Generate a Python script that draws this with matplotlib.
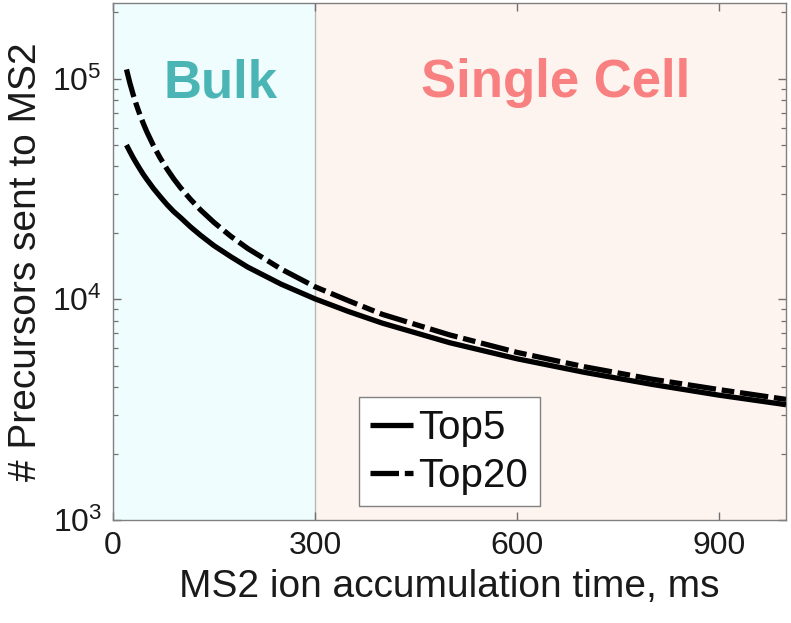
import matplotlib
matplotlib.use("Agg")
import matplotlib.pyplot as plt
from matplotlib.ticker import LogLocator, LogFormatterMathtext, FixedLocator

plt.rcParams['font.family'] = ['Liberation Sans', 'DejaVu Sans']
plt.rcParams['mathtext.fontset'] = 'custom'
plt.rcParams['mathtext.rm'] = 'Liberation Sans'
plt.rcParams['mathtext.it'] = 'Liberation Sans:italic'
plt.rcParams['mathtext.bf'] = 'Liberation Sans:bold'

# Data
t_ms = [20, 25, 30, 35, 40, 45, 50, 60, 70, 80, 90, 100, 115, 130, 150, 175, 200, 250,
        300, 350, 400, 500, 600, 700, 800, 900, 1000]
top5 = [50000, 46700, 43750, 41200, 38900, 36800, 35000, 31800, 29200, 26900, 25000, 23500,
        21300, 19500, 17500, 15600, 14000, 11700, 10050, 8800, 7800, 6360, 5380, 4670, 4120,
        3680, 3330]
top20 = [110000, 95500, 84400, 75600, 68500, 62600, 57600, 49700, 43700, 39000, 35200, 32100,
         28400, 25400, 22300, 19300, 17000, 13700, 11400, 9850, 8550, 6900, 5750, 4950, 4350,
         3900, 3520]
series_labels = ['Top5', 'Top20']
region_labels = ['Bulk', 'Single Cell']
x_ticks = [0, 300, 600, 900]

fig = plt.figure(figsize=(7.91, 6.23), dpi=100)
ax = fig.add_axes([0.1429, 0.1653, 0.8508, 0.8299])

ax.axvspan(0, 300, facecolor='#effdfe', edgecolor='none', zorder=0)
ax.axvspan(300, 1000, facecolor='#fdf4f0', edgecolor='none', zorder=0)
ax.axvline(300, color='#b8b8b8', lw=1.0, zorder=0.5)

ax.plot(t_ms, top5, color='black', lw=3.8, solid_capstyle='butt', label=series_labels[0], zorder=3)
ax.plot(t_ms, top20, color='black', lw=3.8, dash_capstyle='butt',
        linestyle=(0, (5.4, 1.1, 2.4, 1.1)), label=series_labels[1], zorder=3)

ax.set_xlim(0, 1000)
ax.set_yscale('log')
ax.set_ylim(1e3, 2.2e5)
ax.xaxis.set_major_locator(FixedLocator(x_ticks))
ax.yaxis.set_major_locator(LogLocator(base=10, numticks=10))
ax.yaxis.set_minor_locator(LogLocator(base=10, subs=range(2, 10), numticks=20))
ax.yaxis.set_major_formatter(LogFormatterMathtext())

ax.tick_params(axis='both', which='both', direction='in', top=True, right=True,
               color='#707070', labelcolor='#1a1a1a')
ax.tick_params(axis='both', which='major', length=6, width=1, labelsize=23, pad=8)
ax.tick_params(axis='y', which='minor', length=3.5, width=0.9)
for s in ax.spines.values():
    s.set_color('#808080')
    s.set_linewidth(1.0)

ax.set_xlabel('MS2 ion accumulation time, ms', fontsize=28, color='#1a1a1a', labelpad=6)
ax.set_ylabel('# Precursors sent to MS2', fontsize=28, color='#1a1a1a', labelpad=6)

ax.text(159, 0.95e5, region_labels[0], fontsize=38, fontweight='bold', color='#4bb5b5',
        ha='center', va='center')
ax.text(657, 0.95e5, region_labels[1], fontsize=38, fontweight='bold', color='#f88080',
        ha='center', va='center')

leg = ax.legend(loc='lower left', bbox_to_anchor=(0.3655, 0.027), borderaxespad=0,
                fontsize=29, handlelength=1.05, handletextpad=0.15, labelspacing=0.25,
                borderpad=0.28, fancybox=False, framealpha=1, edgecolor='#808080')
leg.get_frame().set_linewidth(1.0)
for txt in leg.get_texts():
    txt.set_color('#111111')

fig.savefig('out.png', dpi=100)
